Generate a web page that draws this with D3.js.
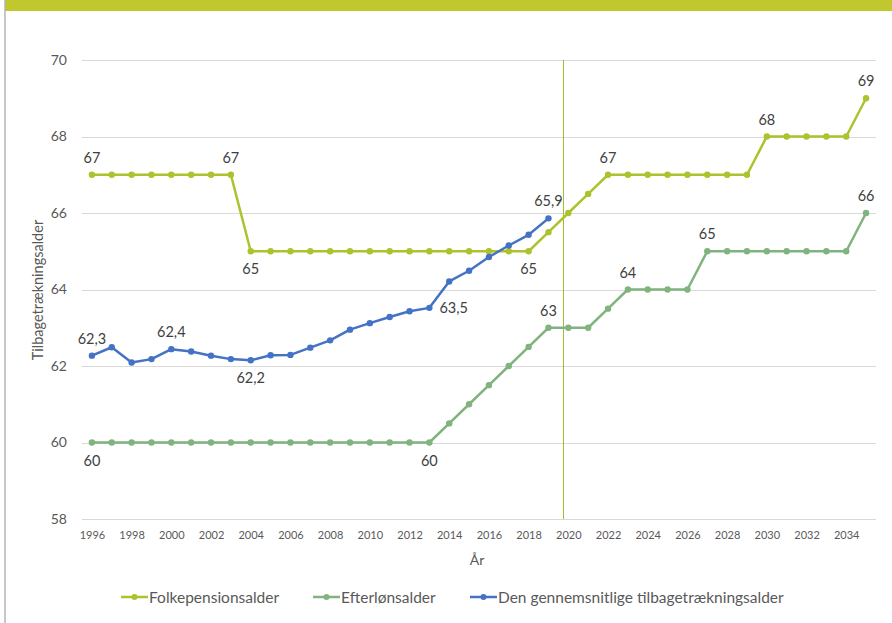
<!DOCTYPE html>
<html><head><meta charset="utf-8">
<script src="https://cdn.jsdelivr.net/npm/d3@7"></script>
<style>
html,body{margin:0;padding:0;background:#fff;}
svg{display:block;font-family:Lato,"Open Sans",sans-serif;}
</style></head>
<body><svg id="c" width="892" height="623"></svg>
<script>
const years = d3.range(1996, 2036);
const folkepension = [67,67,67,67,67,67,67,67,65,65,65,65,65,65,65,65,65,65,65,65,65,65,65,65.5,66,66.5,67,67,67,67,67,67,67,67,68,68,68,68,68,69];
const efterloen = [60,60,60,60,60,60,60,60,60,60,60,60,60,60,60,60,60,60,60.5,61,61.5,62,62.5,63,63,63,63.5,64,64,64,64,65,65,65,65,65,65,65,65,66];
const gennemsnit = [62.27,62.49,62.09,62.18,62.44,62.38,62.27,62.18,62.15,62.28,62.29,62.48,62.67,62.95,63.12,63.28,63.43,63.52,64.21,64.49,64.85,65.15,65.43,65.86];
const yTicks = [58,60,62,64,66,68,70];
const xTickYears = d3.range(1996, 2035, 2);
const markerYear = 2019.75;
const seriesNames = ["Folkepensionsalder","Efterlønsalder","Den gennemsnitlige tilbagetrækningsalder"];
const folkLabels = [[1996,"67","above"],[2003,"67","above"],[2004,"65","below"],[2018,"65","below"],[2022,"67","above"],[2030,"68","above"],[2035,"69","above"]];
const efterLabels = [[1996,"60","below"],[2013,"60","below"],[2019,"63","above"],[2023,"64","above"],[2027,"65","above"],[2035,"66","above"]];
const gennemLabels = [[1996,"62,3","above"],[2000,"62,4","above"],[2004,"62,2","below"],[2013,"63,5","right"],[2019,"65,9","above"]];
const colors = ["#adc22c","#80b37e","#4472c4"];

const svg = d3.select("#c");
// frame decorations
svg.append("rect").attr("x",5).attr("y",0).attr("width",887).attr("height",11).attr("fill","#c0c82e");
svg.append("line").attr("x1",5).attr("x2",5).attr("y1",0).attr("y2",623).attr("stroke","#b5b5b5").attr("stroke-width",1.5);

const pLeft=82, pRight=876, pTop=60, pBottom=519;
const x = d3.scalePoint().domain(years).range([pLeft,pRight]).padding(0.5);
const xl = d3.scaleLinear().domain([1996,2035]).range([x(1996),x(2035)]);
const y = d3.scaleLinear().domain([58,70]).range([pBottom,pTop]);

// gridlines
svg.append("g").selectAll("line").data(yTicks).join("line")
  .attr("x1",pLeft).attr("x2",pRight).attr("y1",d=>Math.round(y(d))+0.5).attr("y2",d=>Math.round(y(d))+0.5)
  .attr("stroke","#d9d9d9").attr("stroke-width",1);

// y axis labels
const yAxis = d3.axisLeft(y).tickValues(yTicks).tickSize(0).tickPadding(0).tickFormat(d3.format("d"));
svg.append("g").attr("transform",`translate(${pLeft-15},0)`).call(yAxis)
  .call(g=>g.select(".domain").remove())
  .call(g=>g.selectAll("text").attr("fill","#595959").attr("font-size",14).attr("font-family","Lato,'Open Sans',sans-serif"));

// x axis labels
const xAxis = d3.axisBottom(x).tickValues(xTickYears).tickSize(0).tickPadding(0);
svg.append("g").attr("transform",`translate(0,${pBottom+12})`).call(xAxis)
  .call(g=>g.select(".domain").remove())
  .call(g=>g.selectAll("text").attr("fill","#595959").attr("font-size",11).attr("font-family","Lato,'Open Sans',sans-serif"));

// axis titles
svg.append("text").attr("x",477).attr("y",565).attr("text-anchor","middle").attr("fill","#595959").attr("font-size",14).text("År");
svg.append("text").attr("transform","translate(43,290) rotate(-90)").attr("text-anchor","middle").attr("fill","#595959").attr("font-size",14.5).text("Tilbagetrækningsalder");

// vertical marker
const mx = Math.round(xl(markerYear)) + 0.5;
svg.append("line").attr("x1",mx).attr("x2",mx).attr("y1",y(70)).attr("y2",y(58))
  .attr("stroke","#a6bb34").attr("stroke-width",1);

function drawSeries(vals, color, width, labels){
  const pts = vals.map((v,i)=>[years[i],v]);
  const line = d3.line().x(d=>x(d[0])).y(d=>y(d[1]));
  svg.append("path").datum(pts).attr("d",line).attr("fill","none").attr("stroke",color).attr("stroke-width",width).attr("stroke-linejoin","round");
  svg.append("g").selectAll("circle").data(pts).join("circle")
    .attr("cx",d=>x(d[0])).attr("cy",d=>y(d[1])).attr("r",3.2).attr("fill",color);
  const byYear = new Map(pts);
  svg.append("g").selectAll("text").data(labels).join("text")
    .attr("x",d=> d[2]==="right" ? x(d[0])+10 : x(d[0]))
    .attr("y",d=>{const py=y(byYear.get(d[0])); return d[2]==="above"? py-12 : d[2]==="below"? py+23 : py+5;})
    .attr("text-anchor",d=>d[2]==="right"?"start":"middle")
    .attr("fill","#404040").attr("font-size",14.5).text(d=>d[1]);
}
drawSeries(efterloen, colors[1], 2.5, efterLabels);
drawSeries(folkepension, colors[0], 2.5, folkLabels);
drawSeries(gennemsnit, colors[2], 2.5, gennemLabels);

// legend
const legX = [121,313,470];
const lg = svg.append("g");
seriesNames.forEach((n,i)=>{
  const g = lg.append("g").attr("transform",`translate(${legX[i]},597)`);
  g.append("line").attr("x1",0).attr("x2",27).attr("stroke",colors[i]).attr("stroke-width",2.5);
  g.append("circle").attr("cx",13.5).attr("r",3).attr("fill",colors[i]);
  g.append("text").attr("x",28).attr("y",5.5).attr("fill","#595959").attr("font-size",15.5).text(n);
});
</script></body></html>
